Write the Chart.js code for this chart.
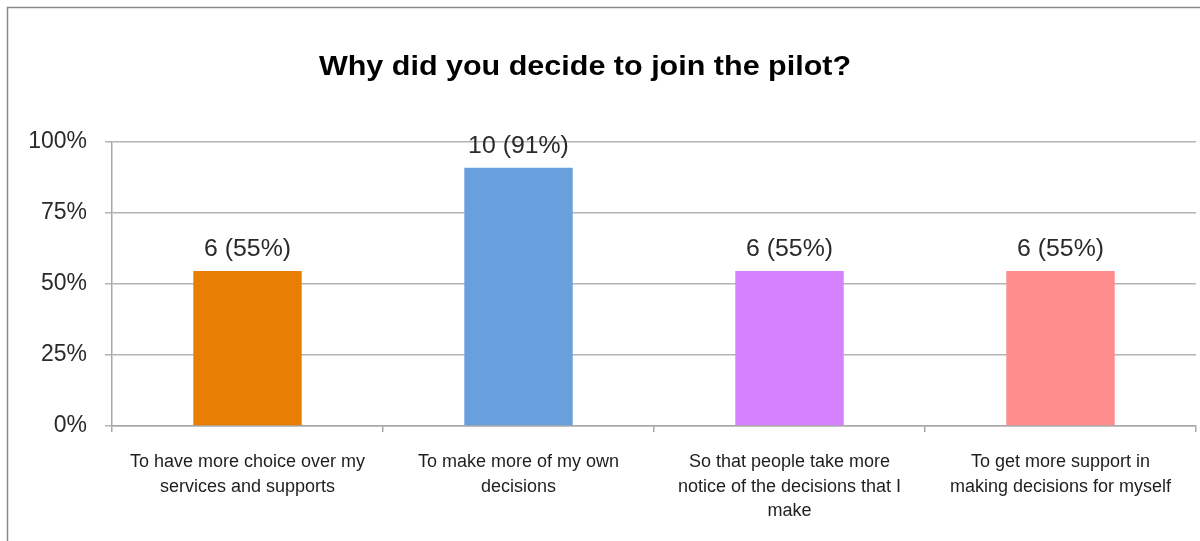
<!DOCTYPE html>
<html>
<head>
<meta charset="utf-8">
<script src="https://cdn.jsdelivr.net/npm/chart.js@4/dist/chart.umd.min.js"></script>
<style>
  html, body { margin: 0; padding: 0; background: #fff; }
  #wrap { width: 1200px; height: 541px; }
</style>
</head>
<body>
<div id="wrap"><canvas id="pilotChart" width="1200" height="541"></canvas></div>
<script>
// survey answers
const reasons = [
    ['To have more choice over my', 'services and supports'],
    ['To make more of my own', 'decisions'],
    ['So that people take more', 'notice of the decisions that I', 'make'],
    ['To get more support in', 'making decisions for myself']
];
const counts = [6, 10, 6, 6];
const respondents = 11;
const percents = counts.map(c => c / respondents * 100);
const yTicks = [0, 25, 50, 75, 100];
const barColors = ['#e87e04', '#68a0de', '#d480ff', '#ff8c8c'];

const titleText = 'Why did you decide to join the pilot?';
const FONT = '"Liberation Sans", Arial, sans-serif';

// text drawn a little wider than the font's natural width
function wideText(ctx, text, x, y, stretch) {
    ctx.save();
    ctx.translate(x, y);
    ctx.scale(stretch, 1);
    ctx.fillText(text, 0, 0);
    ctx.restore();
}

// outer frame + title, drawn by hand so the title sits where we want it
const framePlugin = {
    id: 'frame',
    beforeDraw(chart) {
        const ctx = chart.ctx;
        ctx.save();
        ctx.strokeStyle = '#8a8a8a';
        ctx.lineWidth = 1.5;
        ctx.strokeRect(7.5, 7.5, 1300, 600);
        ctx.fillStyle = '#000';
        ctx.font = 'bold 27px ' + FONT;
        ctx.textAlign = 'center';
        ctx.textBaseline = 'middle';
        wideText(ctx, titleText, 585, 68, 1.13);
        ctx.restore();
    }
};

// "6 (55%)" labels above each bar
const valueLabels = {
    id: 'valueLabels',
    afterDatasetsDraw(chart) {
        const ctx = chart.ctx;
        const meta = chart.getDatasetMeta(0);
        ctx.save();
        ctx.fillStyle = '#2a2a2a';
        ctx.font = '23px ' + FONT;
        ctx.textAlign = 'center';
        ctx.textBaseline = 'middle';
        meta.data.forEach((bar, i) => {
            const text = counts[i] + ' (' + Math.round(percents[i]) + '%)';
            wideText(ctx, text, bar.x, bar.y - 21, 1.08);
        });
        ctx.restore();
    }
};

const ctx = document.getElementById('pilotChart').getContext('2d');
new Chart(ctx, {
    type: 'bar',
    data: {
        labels: reasons,
        datasets: [{
            data: percents,
            backgroundColor: barColors,
            borderWidth: 0,
            categoryPercentage: 1,
            barPercentage: 0.4
        }]
    },
    options: {
        responsive: false,
        animation: false,
        layout: { padding: { top: 142, right: 4, left: 0, bottom: 0 } },
        plugins: {
            legend: { display: false },
            title: { display: false },
            tooltip: { enabled: false }
        },
        scales: {
            x: {
                offset: true,
                afterFit(scale) { scale.height = 115; },
                grid: {
                    offset: true,
                    drawOnChartArea: false,
                    drawTicks: true,
                    tickLength: 6,
                    color: '#a8a8a8',
                    lineWidth: 1.5
                },
                border: { color: '#a8a8a8', width: 1.5 },
                ticks: {
                    color: '#1e1e1e',
                    padding: 18,
                    maxRotation: 0,
                    autoSkip: false,
                    font: { family: FONT, size: 18, lineHeight: 1.36 }
                }
            },
            y: {
                min: 0,
                max: 100,
                afterFit(scale) { scale.width = 112; },
                afterBuildTicks(scale) { scale.ticks = yTicks.map(v => ({ value: v })); },
                grid: {
                    color: '#b4b4b4',
                    lineWidth: 1.5,
                    tickLength: 7
                },
                border: { color: '#a8a8a8', width: 1.5 },
                ticks: {
                    color: '#2a2a2a',
                    padding: 18,
                    font: { family: FONT, size: 23 },
                    callback: v => v + '%'
                }
            }
        }
    },
    plugins: [framePlugin, valueLabels]
});
</script>
</body>
</html>
